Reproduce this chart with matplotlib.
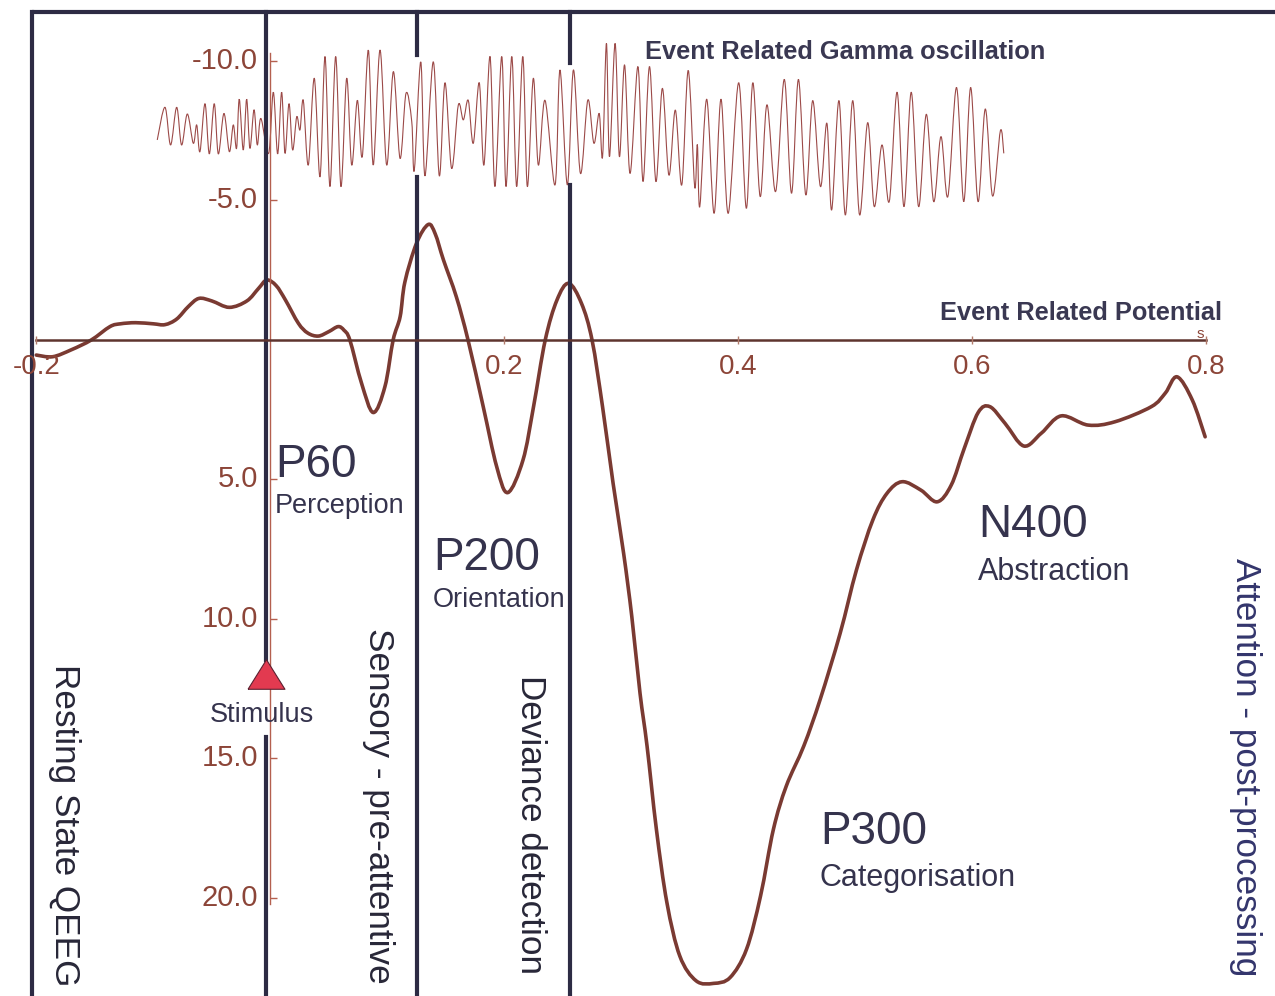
import matplotlib
matplotlib.use("Agg")
import matplotlib.pyplot as plt
from matplotlib.path import Path
from matplotlib.patches import PathPatch

plt.rcParams['font.family'] = ['Liberation Sans', 'DejaVu Sans']

# Event related potential (time in s, amplitude in uV, negative plotted up)
erp_t = [-0.200, -0.186, -0.170, -0.153, -0.137, -0.128, -0.115, -0.100, -0.090, -0.080,
         -0.070, -0.061, -0.050, -0.035, -0.020, -0.010, -0.003, 0.005, 0.013, 0.024,
         0.032, 0.041, 0.050, 0.058, 0.063, 0.068, 0.078, 0.088, 0.098, 0.105,
         0.111, 0.115, 0.125, 0.135, 0.141, 0.148, 0.159, 0.169, 0.182, 0.1935,
         0.203, 0.216, 0.225, 0.235, 0.245, 0.255, 0.266, 0.275, 0.284, 0.293,
         0.302, 0.309, 0.316, 0.322, 0.330, 0.339, 0.350, 0.364, 0.379, 0.393,
         0.407, 0.419, 0.430, 0.441, 0.456, 0.470, 0.487, 0.501, 0.515, 0.527,
         0.540, 0.556, 0.570, 0.582, 0.593, 0.605, 0.615, 0.628, 0.644, 0.659,
         0.676, 0.699, 0.722, 0.753, 0.765, 0.775, 0.788, 0.799]
erp_uv = [0.54, 0.60, 0.35, 0.00, -0.48, -0.58, -0.62, -0.58, -0.55, -0.75,
          -1.20, -1.49, -1.40, -1.17, -1.40, -1.85, -2.15, -1.95, -1.43, -0.60,
          -0.25, -0.14, -0.30, -0.48, -0.35, 0.00, 1.55, 2.60, 1.67, 0.00,
          -0.84, -2.07, -3.47, -4.14, -3.80, -2.87, -1.55, 0.00, 2.39, 4.54,
          5.47, 4.30, 2.39, 0.00, -1.43, -2.03, -1.31, 0.00, 2.40, 5.14,
          7.65, 9.92, 12.66, 14.55, 17.54, 20.17, 22.08, 22.97, 23.06, 22.85,
          21.84, 19.93, 17.54, 15.99, 14.55, 12.88, 10.52, 8.24, 6.45, 5.50,
          5.08, 5.38, 5.80, 5.20, 3.90, 2.60, 2.39, 2.99, 3.80, 3.34,
          2.72, 3.05, 2.93, 2.39, 1.90, 1.32, 2.15, 3.47]

# Gamma band trace, peaks and troughs
gamma_t = [-0.0966, -0.0900, -0.0852, -0.0800, -0.0758, -0.0709, -0.0658, -0.0629, -0.0601, -0.0558,
           -0.0521, -0.0479, -0.0444, -0.0396, -0.0350, -0.0316, -0.0288, -0.0265, -0.0231, -0.0202,
           -0.0174, -0.0139, -0.0111, -0.0080, -0.0014, 0.0026, 0.0063, 0.0097, 0.0126, 0.0160,
           0.0191, 0.0226, 0.0254, 0.0282, 0.0325, 0.0376, 0.0425, 0.0468, 0.0510, 0.0559,
           0.0604, 0.0653, 0.0696, 0.0744, 0.0786, 0.0838, 0.0880, 0.0938, 0.0995, 0.1052,
           0.1109, 0.1160, 0.1209, 0.1231, 0.1286, 0.1322, 0.1393, 0.1445, 0.1493, 0.1550,
           0.1607, 0.1650, 0.1692, 0.1735, 0.1786, 0.1826, 0.1878, 0.1920, 0.1978, 0.2015,
           0.2064, 0.2106, 0.2158, 0.2197, 0.2248, 0.2291, 0.2348, 0.2434, 0.2476, 0.2539,
           0.2591, 0.2651, 0.2714, 0.2766, 0.2811, 0.2840, 0.2873, 0.2899, 0.2947, 0.2984,
           0.3028, 0.3075, 0.3142, 0.3186, 0.3241, 0.3296, 0.3351, 0.3407, 0.3462, 0.3517,
           0.3572, 0.3627, 0.3650, 0.3671, 0.3730, 0.3793, 0.3852, 0.3914, 0.4003, 0.4069,
           0.4124, 0.4187, 0.4245, 0.4319, 0.4393, 0.4455, 0.4514, 0.4577, 0.4636, 0.4702,
           0.4757, 0.4798, 0.4860, 0.4915, 0.4978, 0.5037, 0.5106, 0.5162, 0.5228, 0.5290,
           0.5357, 0.5416, 0.5478, 0.5541, 0.5607, 0.5670, 0.5732, 0.5791, 0.5865, 0.5927,
           0.5986, 0.6049, 0.6111, 0.6173, 0.6240, 0.6269]
gamma_uv = [-7.17, -8.34, -6.99, -8.34, -6.99, -8.10, -7.05, -7.71, -6.75, -8.47,
            -6.67, -8.47, -6.67, -8.12, -6.75, -7.71, -6.87, -8.63, -6.81, -8.63,
            -6.87, -8.25, -6.99, -7.94, -6.69, -8.88, -6.67, -8.88, -6.69, -8.47,
            -6.81, -8.00, -7.53, -8.59, -6.27, -9.38, -5.85, -10.16, -5.50, -10.16,
            -5.50, -9.38, -6.27, -8.59, -6.57, -10.39, -6.27, -10.39, -6.27, -9.62,
            -6.51, -8.84, -7.83, -6.09, -9.97, -5.88, -9.97, -5.88, -9.22, -6.15,
            -8.42, -7.89, -8.59, -7.05, -9.22, -6.27, -10.16, -5.50, -10.16, -5.50,
            -10.16, -5.50, -10.16, -5.50, -9.38, -6.27, -8.59, -5.56, -9.68, -5.56,
            -9.68, -5.97, -8.60, -7.05, -8.12, -6.57, -10.63, -6.57, -10.63, -6.57,
            -9.86, -5.97, -9.80, -5.68, -9.80, -5.68, -9.02, -5.91, -8.24, -5.56,
            -9.66, -5.50, -7.00, -4.78, -8.63, -4.54, -8.63, -4.54, -9.22, -4.72,
            -9.22, -5.14, -8.43, -5.32, -9.34, -5.26, -9.34, -5.20, -8.58, -5.50,
            -7.77, -4.66, -8.58, -4.48, -8.58, -4.48, -7.79, -4.78, -6.99, -4.96,
            -8.88, -4.78, -8.88, -4.78, -8.09, -4.96, -7.29, -5.14, -9.05, -4.96,
            -9.05, -4.96, -8.28, -5.16, -7.50, -6.69]

x_ticks = [-0.2, 0.2, 0.4, 0.6, 0.8]
x_labels = ["-0.2", "0.2", "0.4", "0.6", "0.8"]
y_ticks = [-10.0, -5.0, 5.0, 10.0, 15.0, 20.0]
y_labels = ["-10.0", "-5.0", "5.0", "10.0", "15.0", "20.0"]

stimulus_t = -0.0037
# phase boundaries (s): left edge, end of sensory, end of deviance stage
phase_lines = [-0.2039, 0.1258, 0.2562]
phase_names = ["Resting State QEEG", "Sensory - pre-attentive",
               "Deviance detection", "Attention - post-processing"]
phase_name_t = [-0.1755, 0.0924, 0.2220, 0.8331]
phase_name_uv = [11.61, 10.32, 12.0, 7.81]

comp_names = ["P60", "P200", "P300", "N400"]
comp_roles = ["Perception", "Orientation", "Categorisation", "Abstraction"]
comp_t = [0.004, 0.139, 0.4698, 0.6048]
comp_uv = [4.91, 8.24, 18.06, 7.06]
role_uv = [6.20, 9.57, 19.57, 8.60]
role_size = [19.5, 19.5, 22, 22]

TEXT = "#35334d"
LINE = "#2d2b44"
AXIS = "#8c4538"


def smooth_path(xs, ys):
    # Catmull-Rom curve through the samples, as cubic Bezier segments
    pts = list(zip(xs, ys))
    n = len(pts)
    verts = [pts[0]]
    codes = [Path.MOVETO]
    for i in range(n - 1):
        p0 = pts[i - 1] if i > 0 else pts[i]
        p1 = pts[i]
        p2 = pts[i + 1]
        p3 = pts[i + 2] if i + 2 < n else pts[i + 1]
        c1 = (p1[0] + (p2[0] - p0[0]) / 6, p1[1] + (p2[1] - p0[1]) / 6)
        c2 = (p2[0] - (p3[0] - p1[0]) / 6, p2[1] - (p3[1] - p1[1]) / 6)
        verts += [c1, c2, p2]
        codes += [Path.CURVE4] * 3
    return Path(verts, codes)


fig = plt.figure(figsize=(12.75, 9.96), dpi=100)
ax = fig.add_axes([0, 0, 1, 1])
ax.set_xlim(-0.2310, 0.8587)
ax.set_ylim(23.513, -12.186)
ax.axis('off')

# frame: top rule and the stage separators
top_uv = -11.76
ax.plot([phase_lines[0], 0.8587], [top_uv, top_uv], color=LINE, lw=3.0, solid_capstyle='butt')
ax.plot([phase_lines[0], phase_lines[0]], [top_uv, 23.513], color=LINE, lw=3.0)
ax.plot([stimulus_t, stimulus_t], [top_uv, 11.47], color=LINE, lw=3.0)
ax.plot([stimulus_t, stimulus_t], [14.23, 23.513], color=LINE, lw=3.0)
ax.plot([phase_lines[1], phase_lines[1]], [top_uv, -10.22], color=LINE, lw=3.0)
ax.plot([phase_lines[1], phase_lines[1]], [-5.84, 23.513], color=LINE, lw=3.0)
ax.plot([phase_lines[2], phase_lines[2]], [top_uv, -9.93], color=LINE, lw=3.0)
ax.plot([phase_lines[2], phase_lines[2]], [-5.56, 23.513], color=LINE, lw=3.0)

# amplitude axis
ax.plot([0, 0], [-10.3, 20.2], color="#b4604f", lw=1.0)
ax.hlines(y_ticks, 0, 0.006, color="#b4604f", lw=1.0)
for v, lab in zip(y_ticks, y_labels):
    ax.text(-0.0105, v, lab, ha='right', va='center', fontsize=21, color=AXIS)

# time axis
ax.plot([-0.2, 0.8], [0, 0], color="#5e342e", lw=1.8)
ax.vlines(x_ticks, -0.15, 0.15, color="#b07a6a", lw=1.0)
for t, lab in zip(x_ticks, x_labels):
    ax.text(t, 0.97, lab, ha='center', va='center', fontsize=20, color=AXIS)
ax.text(0.795, -0.08, "s", ha='center', va='baseline', fontsize=11, color=AXIS)

# traces
ax.add_patch(PathPatch(smooth_path(gamma_t, gamma_uv), fill=False,
                       edgecolor="#9c4a48", lw=0.8))
ax.add_patch(PathPatch(smooth_path(erp_t, erp_uv), fill=False,
                       edgecolor="#7a3a32", lw=2.6, capstyle='round', joinstyle='round'))

ax.text(0.320, -10.06, "Event Related Gamma oscillation", ha='left', va='baseline',
        fontsize=18.3, fontweight='bold', color="#3a3852")
ax.text(0.8133, -0.70, "Event Related Potential", ha='right', va='baseline',
        fontsize=18.3, fontweight='bold', color="#3a3852")

# stimulus marker
tri = [(-1, -0.8), (1, -0.8), (0, 0.8), (-1, -0.8)]
ax.plot([stimulus_t], [11.97], marker=tri, ms=26.6, color="#e23a50",
        markeredgecolor="#5a2030", markeredgewidth=0.8)
ax.text(-0.007, 13.69, "Stimulus", ha='center', va='baseline', fontsize=19.5, color=TEXT)

# component labels
for name, role, t, v, rv, rs in zip(comp_names, comp_roles, comp_t, comp_uv, role_uv, role_size):
    ax.text(t, v, name, ha='left', va='baseline', fontsize=33, color=TEXT)
    ax.text(t, rv, role, ha='left', va='baseline', fontsize=rs, color=TEXT)

# processing stages
for name, t, v in zip(phase_names, phase_name_t, phase_name_uv):
    c = "#33356c" if name.startswith("Attention") else "#282738"
    ax.text(t, v, name, rotation=-90, ha='center', va='top', fontsize=25.3, color=c)

fig.savefig("out.png", dpi=100)
